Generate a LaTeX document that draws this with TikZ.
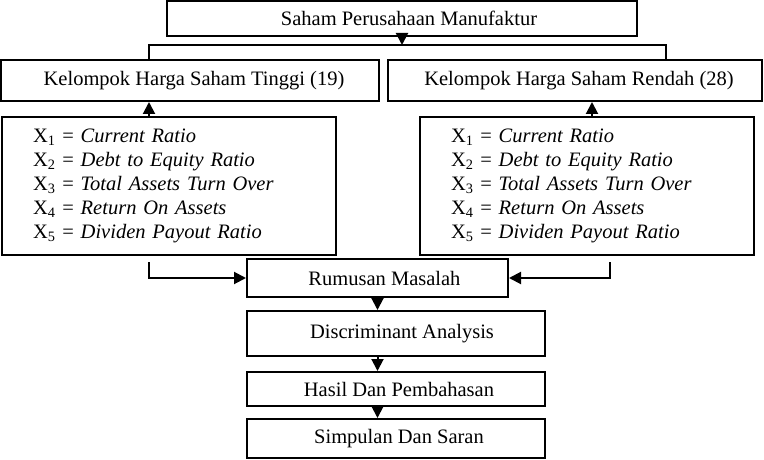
\documentclass[tikz,border=0pt]{standalone}
\usepackage{fontspec}
\setmainfont{Liberation Serif}
\usetikzlibrary{arrows.meta}

\begin{document}
\begin{tikzpicture}[x=1pt, y=-1pt,
	box/.style={draw, line width=2pt, inner sep=0pt, font=\fontsize{20.5}{24}\selectfont},
	lst/.style={box, align=left, text width=272pt, inner xsep=31pt, minimum height=138pt, anchor=north west},
	arr/.style={line width=2pt, -{Triangle[width=12pt,length=12pt]}}]
\useasboundingbox (0,0) rectangle (764,460);
\node[box, minimum width=470pt, minimum height=35pt] (saham) at (402,18.5) {\hspace{14pt}Saham Perusahaan Manufaktur};
\node[box, minimum width=378pt, minimum height=41pt] (tinggi) at (190,80.5) {\hspace{8pt}Kelompok Harga Saham Tinggi (19)};
\node[box, minimum width=374pt, minimum height=41pt] (rendah) at (575,80.5) {\hspace{8pt}Kelompok Harga Saham Rendah (28)};
\node[lst] (varL) at (1,116) {
	X\textsubscript{1} = \textit{Current Ratio}\\
	X\textsubscript{2} = \textit{Debt to Equity Ratio}\\
	X\textsubscript{3} = \textit{Total Assets Turn Over}\\
	X\textsubscript{4} = \textit{Return On Assets}\\
	X\textsubscript{5} = \textit{Dividen Payout Ratio}};
\node[lst] (varR) at (419,116) {
	X\textsubscript{1} = \textit{Current Ratio}\\
	X\textsubscript{2} = \textit{Debt to Equity Ratio}\\
	X\textsubscript{3} = \textit{Total Assets Turn Over}\\
	X\textsubscript{4} = \textit{Return On Assets}\\
	X\textsubscript{5} = \textit{Dividen Payout Ratio}};
\node[box, minimum width=261pt, minimum height=38pt] (rumusan) at (377.5,278) {\hspace{14pt}Rumusan Masalah};
\node[box, minimum width=298pt, minimum height=45pt] (analisis) at (396,333.5) {\hspace{12pt}Discriminant Analysis};
\node[box, minimum width=298pt, minimum height=34pt] (hasil) at (396,389) {\hspace{6pt}Hasil Dan Pembahasan};
\node[box, minimum width=298pt, minimum height=39pt] (simpulan) at (396,438.5) {\hspace{6pt}Simpulan Dan Saran};

\coordinate (busL) at (149,45);
\coordinate (busR) at (666,45);
\coordinate (upR) at (592,45);
\coordinate (dnR) at (610,45);
% percabangan atas
\draw[arr] (saham.south) -- (saham.south |- busL);
\draw[line width=2pt] (busL |- tinggi.north) -- (busL) -- (busR) -- (busR |- rendah.north);
\draw[arr] (varL.north -| busL) -- (tinggi.south -| busL);
\draw[arr] (varR.north -| upR) -- (rendah.south -| upR);
% ke rumusan masalah
\draw[arr, shorten <=6pt] (varL.south -| busL) |- (rumusan.west);
\draw[arr, shorten <=6pt] (varR.south -| dnR) |- (rumusan.east);
\draw[arr] (rumusan.south) -- (rumusan.south |- analisis.north);
\draw[arr] (analisis.south -| rumusan.south) -- (hasil.north -| rumusan.south);
\draw[arr] (hasil.south -| rumusan.south) -- (simpulan.north -| rumusan.south);
\end{tikzpicture}
\end{document}
